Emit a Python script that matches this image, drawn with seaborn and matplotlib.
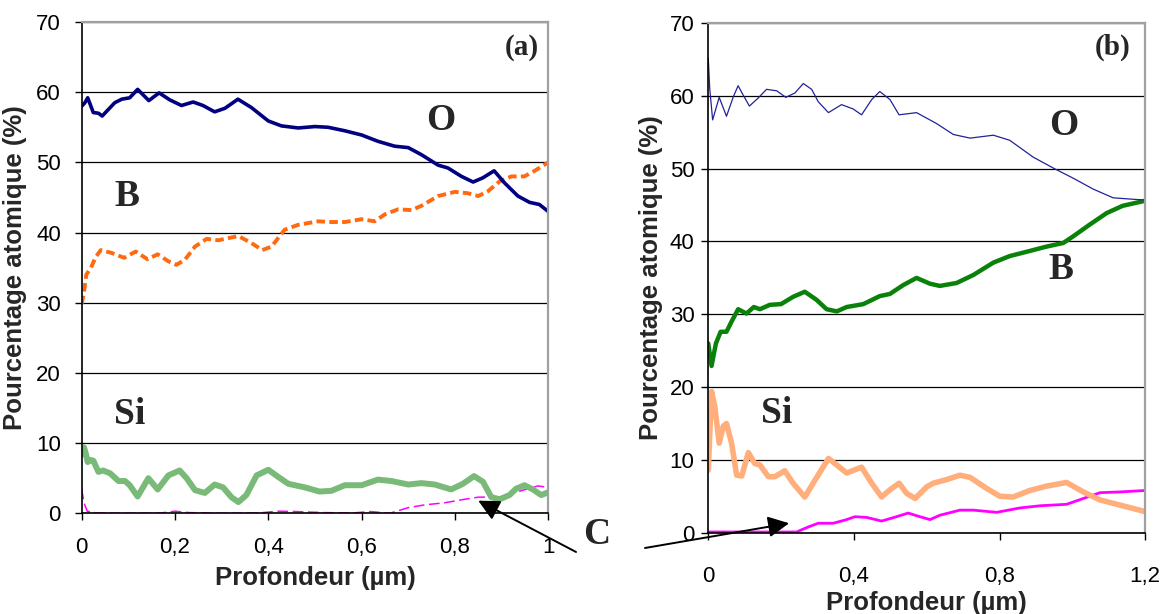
import matplotlib
matplotlib.use("Agg")
import matplotlib.pyplot as plt
import seaborn as sns
import pandas as pd

# ---------------- data : panel (a) ----------------
a_O_x = [0, 0.007, 0.013, 0.025, 0.036, 0.044, 0.071, 0.086, 0.103, 0.12, 0.144, 0.166, 0.189, 0.214,
         0.239, 0.26, 0.285, 0.307, 0.335, 0.364, 0.40, 0.428, 0.464, 0.50, 0.528, 0.564, 0.60, 0.635,
         0.671, 0.70, 0.728, 0.764, 0.785, 0.814, 0.839, 0.86, 0.884, 0.906, 0.935, 0.96, 0.981, 1.0]
a_O_y = [58.0, 58.5, 59.2, 57.1, 57.0, 56.6, 58.5, 59.0, 59.2, 60.4, 58.8, 59.9, 58.9, 58.1,
         58.6, 58.1, 57.2, 57.7, 59.0, 57.8, 55.9, 55.2, 54.9, 55.1, 55.0, 54.5, 53.9, 53.0,
         52.3, 52.1, 51.1, 49.6, 49.2, 48.0, 47.2, 47.8, 48.8, 47.1, 45.2, 44.3, 44.0, 43.0]

a_B_x = [0.0, 0.005, 0.01, 0.02, 0.03, 0.041, 0.064, 0.091, 0.116, 0.141, 0.163, 0.186, 0.203, 0.221,
         0.243, 0.268, 0.293, 0.314, 0.336, 0.364, 0.387, 0.407, 0.435, 0.464, 0.507, 0.535, 0.564,
         0.60, 0.628, 0.65, 0.678, 0.707, 0.728, 0.764, 0.80, 0.828, 0.85, 0.871, 0.896, 0.921, 0.949,
         0.971, 1.0]
a_B_y = [29.8, 31.5, 34.0, 35.0, 36.5, 37.5, 37.1, 36.4, 37.3, 36.2, 36.9, 35.9, 35.4, 36.1,
         38.0, 39.1, 38.9, 39.2, 39.5, 38.5, 37.5, 38.0, 40.4, 41.1, 41.6, 41.5, 41.5,
         41.9, 41.6, 42.6, 43.3, 43.2, 43.8, 45.2, 45.8, 45.6, 45.2, 45.9, 47.3, 48.0, 48.0,
         48.8, 50.0]

a_Si_x = [0.0, 0.005, 0.009, 0.013, 0.018, 0.025, 0.036, 0.046, 0.061, 0.079, 0.093, 0.103, 0.12,
          0.143, 0.163, 0.186, 0.21, 0.225, 0.243, 0.264, 0.285, 0.303, 0.321, 0.336, 0.353, 0.375,
          0.40, 0.421, 0.443, 0.478, 0.51, 0.535, 0.564, 0.60, 0.635, 0.664, 0.70, 0.728, 0.757,
          0.792, 0.817, 0.841, 0.86, 0.878, 0.896, 0.917, 0.931, 0.949, 0.967, 0.985, 1.0]
a_Si_y = [8.4, 9.4, 8.5, 7.3, 7.6, 7.5, 5.9, 6.1, 5.7, 4.6, 4.6, 4.0, 2.4,
          5.0, 3.4, 5.4, 6.1, 5.0, 3.3, 2.9, 4.1, 3.7, 2.3, 1.6, 2.6, 5.4,
          6.2, 5.2, 4.2, 3.7, 3.1, 3.2, 4.0, 4.0, 4.8, 4.6, 4.1, 4.3, 4.1,
          3.4, 4.2, 5.3, 4.5, 2.3, 2.0, 2.6, 3.5, 4.0, 3.4, 2.6, 3.0]

a_C_x = [0.0, 0.005, 0.012, 0.03, 0.1, 0.17, 0.2, 0.23, 0.3, 0.38, 0.42, 0.46, 0.52, 0.58, 0.62,
         0.66, 0.70, 0.735, 0.778, 0.821, 0.85, 0.90, 0.946, 0.978, 1.0]
a_C_y = [3.5, 1.5, 0.3, 0.05, 0.0, 0.05, 0.3, 0.1, 0.0, 0.05, 0.3, 0.25, 0.1, 0.05, 0.25,
         0.0, 0.8, 1.2, 1.5, 2.0, 2.3, 2.3, 3.3, 3.9, 3.7]

# ---------------- data : panel (b) ----------------
b_O_x = [0, 0.004, 0.012, 0.03, 0.05, 0.069, 0.082, 0.096, 0.113, 0.137, 0.16, 0.188, 0.213, 0.238,
         0.261, 0.284, 0.302, 0.33, 0.366, 0.398, 0.421, 0.449, 0.471, 0.499, 0.524, 0.572, 0.627,
         0.673, 0.719, 0.783, 0.828, 0.892, 0.947, 1.002, 1.057, 1.112, 1.167, 1.2]
b_O_y = [65.2, 61.0, 56.7, 59.8, 57.2, 59.9, 61.4, 60.1, 58.6, 59.7, 60.9, 60.7, 59.8, 60.4,
         61.7, 60.9, 59.2, 57.7, 58.8, 58.2, 57.4, 59.5, 60.6, 59.5, 57.4, 57.7, 56.2,
         54.7, 54.2, 54.6, 53.9, 51.6, 50.1, 48.7, 47.2, 46.0, 45.8, 45.7]

b_B_x = [0, 0.009, 0.021, 0.034, 0.05, 0.064, 0.082, 0.105, 0.125, 0.142, 0.169, 0.20, 0.233, 0.265,
         0.297, 0.325, 0.353, 0.38, 0.426, 0.471, 0.499, 0.535, 0.572, 0.609, 0.636, 0.682, 0.728,
         0.783, 0.828, 0.883, 0.929, 0.975, 1.002, 1.047, 1.094, 1.138, 1.2]
b_B_y = [26.0, 22.9, 26.0, 27.6, 27.6, 29.0, 30.7, 30.1, 31.0, 30.7, 31.3, 31.4, 32.4, 33.1,
         32.0, 30.7, 30.4, 31.0, 31.4, 32.5, 32.8, 34.0, 35.0, 34.2, 33.9, 34.3, 35.4,
         37.1, 38.0, 38.7, 39.3, 39.8, 40.7, 42.3, 43.9, 44.9, 45.6]

b_Si_x = [0, 0.009, 0.018, 0.03, 0.041, 0.05, 0.064, 0.078, 0.092, 0.11, 0.128, 0.142, 0.165, 0.183,
          0.21, 0.233, 0.265, 0.288, 0.33, 0.353, 0.38, 0.421, 0.449, 0.476, 0.499, 0.524, 0.545,
          0.568, 0.6, 0.618, 0.655, 0.691, 0.719, 0.764, 0.801, 0.837, 0.883, 0.929, 0.984, 1.03,
          1.076, 1.13, 1.2]
b_Si_y = [8.6, 19.4, 17.3, 12.3, 14.6, 15.0, 12.3, 7.9, 7.8, 11.0, 9.5, 9.3, 7.7, 7.7,
          8.5, 6.8, 4.9, 6.8, 10.2, 9.3, 8.2, 9.0, 6.8, 4.9, 5.9, 6.8, 5.4,
          4.7, 6.3, 6.8, 7.3, 7.9, 7.6, 6.1, 5.0, 4.9, 5.8, 6.4, 6.9, 5.6,
          4.5, 3.8, 2.9]

b_C_x = [0, 0.1, 0.243, 0.27, 0.302, 0.343, 0.38, 0.403, 0.435, 0.476, 0.517, 0.549, 0.581, 0.609,
         0.636, 0.691, 0.728, 0.792, 0.856, 0.911, 0.984, 1.03, 1.076, 1.13, 1.2]
b_C_y = [0.1, 0.1, 0.1, 0.7, 1.3, 1.3, 1.8, 2.2, 2.1, 1.6, 2.2, 2.7, 2.2, 1.8,
         2.4, 3.1, 3.1, 2.8, 3.4, 3.7, 3.9, 4.7, 5.5, 5.6, 5.8]

y_ticks = [0, 10, 20, 30, 40, 50, 60, 70]
a_xticks = [0, 0.2, 0.4, 0.6, 0.8, 1.0]
a_xticklabels = ["0", "0,2", "0,4", "0,6", "0,8", "1"]
b_xticks = [0, 0.4, 0.8, 1.2]
b_xticklabels = ["0", "0,4", "0,8", "1,2"]
ylabel = "Pourcentage atomique (%)"
xlabel = "Profondeur (µm)"

# ---------------- style ----------------
sns.set_style("white")
plt.rcParams["font.family"] = ["Liberation Sans", "DejaVu Sans"]

fig = plt.figure(figsize=(11.63, 6.14), dpi=100)
axA = fig.add_axes([0.0702, 0.164, 0.4012, 0.8002])
axB = fig.add_axes([0.609, 0.1324, 0.3757, 0.830])

serif = ["Liberation Serif", "DejaVu Serif"]


def draw(ax, x, y, **kw):
    df = pd.DataFrame({"x": x, "y": y})
    sns.lineplot(data=df, x="x", y="y", ax=ax, estimator=None, sort=False, legend=False, **kw)


# panel (a)
draw(axA, a_C_x, a_C_y, color="#FF00FF", linewidth=1.1, dashes=(7, 3))
draw(axA, a_Si_x, a_Si_y, color="#79BA79", linewidth=4.3)
draw(axA, a_B_x, a_B_y, color="#FF6A10", linewidth=2.8, dashes=(2.2, 1.1))
draw(axA, a_O_x, a_O_y, color="#000080", linewidth=2.6)

# panel (b)
draw(axB, b_C_x, b_C_y, color="#FF00FF", linewidth=2.0)
draw(axB, b_Si_x, b_Si_y, color="#FFAE7C", linewidth=4.0)
draw(axB, b_B_x, b_B_y, color="#0A820A", linewidth=3.2)
draw(axB, b_O_x, b_O_y, color="#22229A", linewidth=0.9)

settings = [
    (axA, a_xticks, a_xticklabels, 1.0, 12, 10, (0.5, -0.132), (-0.143, 0.5)),
    (axB, b_xticks, b_xticklabels, 1.2, 19, 5, (0.5, -0.138), (-0.131, 0.5)),
]
for ax, xt, xtl, xmax, xpad, ypad, xlc, ylc in settings:
    ax.set_xlim(0, xmax)
    ax.set_ylim(0, 70)
    ax.set_xticks(xt)
    ax.set_xticklabels(xtl)
    ax.set_yticks(y_ticks)
    ax.set_yticklabels([str(v) for v in y_ticks])
    ax.yaxis.grid(True, color="black", linewidth=0.9)
    ax.xaxis.grid(False)
    ax.set_axisbelow(True)
    ax.tick_params(axis="both", direction="out", length=5, width=1, color="black",
                   labelsize=16, labelcolor="black")
    ax.tick_params(axis="x", pad=xpad)
    ax.tick_params(axis="y", pad=ypad)
    ax.tick_params(left=True, bottom=True)
    for s in ["left", "bottom"]:
        ax.spines[s].set_color("black")
        ax.spines[s].set_linewidth(1.2)
    for s in ["top", "right"]:
        ax.spines[s].set_color("#A0A0A0")
        ax.spines[s].set_linewidth(1.6)
    ax.set_xlabel(xlabel, fontsize=18.5, fontweight="bold")
    ax.set_ylabel(ylabel, fontsize=18.5, fontweight="bold")
    ax.xaxis.set_label_coords(*xlc)
    ax.yaxis.set_label_coords(*ylc)
    ax.xaxis.label.set_va("center")
    ax.yaxis.label.set_va("center")

# text labels
lab = dict(fontsize=27, fontweight="bold", family=serif, ha="center", va="center")
axA.text(0.944, 66.4, "(a)", **{**lab, "fontsize": 21})
axA.text(0.769, 55.9, "O", **lab)
axA.text(0.096, 45.1, "B", **lab)
axA.text(0.103, 14.1, "Si", **lab)
axB.text(1.111, 66.7, "(b)", **{**lab, "fontsize": 21})
axB.text(0.975, 55.9, "O", **lab)
axB.text(0.969, 36.1, "B", **lab)
axB.text(0.188, 16.4, "Si", **lab)
fig.text(0.513, 0.129, "C", **lab)

arrow = dict(arrowstyle="-|>,head_length=0.8,head_width=0.4", color="black", lw=1.4,
             mutation_scale=16, shrinkA=0, shrinkB=0)
axA.annotate("", xy=(0.85, 1.8), xycoords="data", xytext=(0.4953, 0.101),
             textcoords="figure fraction", arrowprops=arrow, annotation_clip=False)
axB.annotate("", xy=(0.222, 1.3), xycoords="data", xytext=(0.5546, 0.1075),
             textcoords="figure fraction", arrowprops=arrow, annotation_clip=False)

fig.savefig("out.png", dpi=100)
